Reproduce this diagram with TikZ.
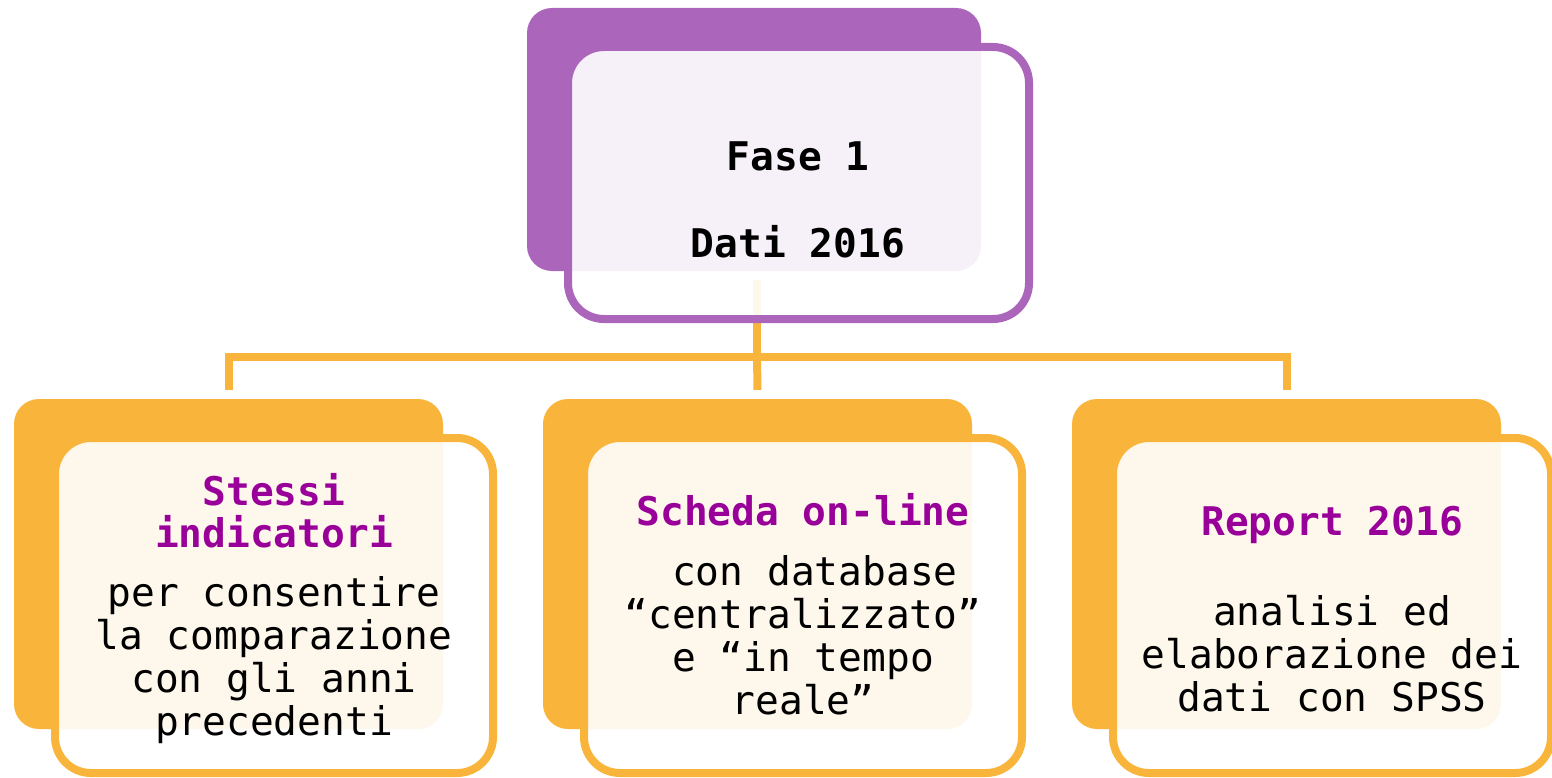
\documentclass[tikz,border=0pt]{standalone}
\usepackage{fontspec}
\setmonofont{DejaVu Sans Mono}
\definecolor{purplebox}{HTML}{AB66BC}
\definecolor{titlepurple}{HTML}{990099}
\definecolor{orangebox}{HTML}{F9B53B}
\tikzset{
  backbox/.style={rectangle, rounded corners=25pt, fill=#1, inner sep=0pt,
    minimum width=429pt, minimum height=330pt},
  frontbox/.style={rectangle, rounded corners=36pt, draw=#1, line width=8pt,
    fill=white, fill opacity=0.9, inner sep=0pt,
    minimum width=438pt, minimum height=335pt},
  title/.style={font=\ttfamily\bfseries\fontsize{39.5}{42}\selectfont,
    text=titlepurple, align=center, inner sep=0pt, anchor=base},
  body/.style={font=\ttfamily\fontsize{39.5}{42.7}\selectfont,
    align=center, inner sep=0pt, anchor=base},
  link/.style={draw=orangebox, line width=8pt}
}
\begin{document}
\begin{tikzpicture}[x=1pt,y=-1pt]
  \useasboundingbox (0,0) rectangle (1552,778);

  \node[backbox=purplebox, minimum width=454pt, minimum height=263pt] (faseback) at (754,139.5) {};
  \node[backbox=orangebox] (stessiback) at (228.5,564) {};
  \node[backbox=orangebox] (schedaback) at (757.5,564) {};
  \node[backbox=orangebox] (reportback) at (1286.5,564) {};

  % tree lines
  \coordinate (hub) at (757,357);
  \draw[link] ([yshift=-9pt]hub |- faseback.south) -- (hub);
  \draw[link] (hub) -- ([yshift=9pt]schedaback.north);
  \draw[link] ([yshift=9pt]stessiback.north) |- ([yshift=42pt]reportback.north) -- ([yshift=9pt]reportback.north);

  \node[frontbox=purplebox, minimum width=461pt, minimum height=272pt] (fase) at (798.5,183) {};
  \node[frontbox=orangebox] (stessi) at (274,605.5) {};
  \node[frontbox=orangebox] (scheda) at (803,605.5) {};
  \node[frontbox=orangebox] (report) at (1332,605.5) {};

  % base = last line
  \node[title, text=black, font=\ttfamily\bfseries\fontsize{39.5}{87}\selectfont] (fasetxt) at (798,257) {Fase 1\\Dati 2016};
  \node[title] (stessititle) at (274,547) {Stessi\\indicatori};
  \node[body] (stessitxt) at (274,735) {per consentire\\la comparazione\\con gli anni\\precedenti};
  \node[title] (schedatitle) at (803,525) {Scheda on-line};
  \node[body] (schedatxt) at (803,714) {\ con database\\“centralizzato”\\e “in tempo\\reale”};
  \node[title] (reporttitle) at (1332,535) {Report 2016};
  \node[body] (reporttxt) at (1332,711) {analisi ed\\elaborazione dei\\dati con SPSS};
\end{tikzpicture}
\end{document}
